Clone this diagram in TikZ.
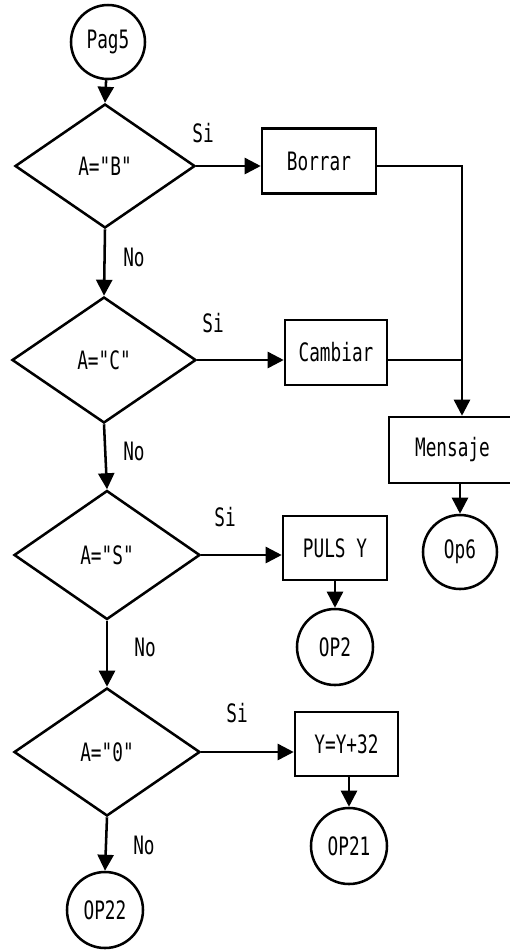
\documentclass[tikz,border=0pt]{standalone}
\usepackage{fontspec}
\newfontfamily\plotfont[FakeStretch=0.7]{DejaVu Sans Mono}
\usetikzlibrary{shapes.geometric,arrows.meta}
\newcommand\pxl[1]{#1*0.75pt}
\begin{document}
\begin{tikzpicture}[x=0.75pt,y=-0.75pt,
  every node/.style={font={\plotfont\fontsize{19pt}{22pt}\selectfont}},
  base/.style={draw=black,line width=1.9pt,inner sep=0pt},
  conn/.style={circle,base,minimum size=\pxl{76}},
  dec/.style={diamond,base},
  proc/.style={rectangle,base},
  arr/.style={line width=1.9pt,-{Triangle[length=12pt,width=12pt]}},
  ln/.style={line width=1.9pt},
  lbl/.style={inner sep=0pt}]
\useasboundingbox (0,0) rectangle (510,951);
% start
\node[conn,minimum size=\pxl{74}] (pag5) at (108,42) {Pag5};
% decisions
\node[dec,minimum width=\pxl{180},minimum height=\pxl{124}] (d1) at (105,166) {A="B"};
\node[dec,minimum width=\pxl{184},minimum height=\pxl{126}] (d2) at (104,360) {A="C"};
\node[dec,minimum width=\pxl{186},minimum height=\pxl{129}] (d3) at (107,555) {A="S"};
\node[dec,minimum width=\pxl{186},minimum height=\pxl{128}] (d4) at (107,752) {A="0"};
% processes
\node[proc,minimum width=\pxl{114},minimum height=\pxl{65}] (borrar) at (319,161) {Borrar};
\node[proc,minimum width=\pxl{102},minimum height=\pxl{65}] (cambiar) at (336,352.5) {Cambiar};
\node[proc,minimum width=\pxl{127},minimum height=\pxl{66}] (mensaje) at (452.5,450) {Mensaje\hspace{3.75pt}};
\node[proc,minimum width=\pxl{104},minimum height=\pxl{64}] (puls) at (335,548) {PULS Y};
\node[proc,minimum width=\pxl{103},minimum height=\pxl{64}] (yy) at (346.5,744) {Y=Y+32};
% connectors (off-page)
\node[conn,minimum size=\pxl{74}] (op6) at (460,552) {Op6};
\node[conn] (op2) at (335,647) {OP2};
\node[conn] (op21) at (349,846) {OP21};
\node[conn] (op22) at (105,910) {OP22};
% labels
\node[lbl] (si1) at (203,133) {Si};
\node[lbl] (si2) at (213,323) {Si};
\node[lbl] (si3) at (225,517) {Si};
\node[lbl] (si4) at (237,713) {Si};
\node[lbl] (no1) at (134,257) {No};
\node[lbl] (no2) at (134,451) {No};
\node[lbl] (no3) at (145,647) {No};
\node[lbl] (no4) at (144,845) {No};
% flow
\draw[arr] (pag5) -- (d1.north);
\draw[arr] (d1.south) -- (d2.north);
\draw[arr] (d2.south) -- (d3.north);
\draw[arr] (d3.south) -- (d4.north);
\draw[arr] (d4.south) -- (op22.north);
\draw[arr] (d1.east) -- (d1.east -| borrar.west);
\draw[arr] (d2.east) -- (d2.east -| cambiar.west);
\draw[arr] (d3.east) -- (d3.east -| puls.west);
\draw[arr] (d4.east) -- (d4.east -| yy.west);
\coordinate (jx) at (462,0);
\draw[arr] (borrar.east |- d1.east) -| (jx |- mensaje.north);
\draw[ln] (cambiar.east |- d2.east) -- (jx |- d2.east);
\draw[arr] (mensaje.south -| op6) -- (op6.north);
\draw[arr] (puls.south -| op2) -- (op2.north);
\draw[arr] (yy.south -| op21) -- (op21.north);
\end{tikzpicture}
\end{document}
